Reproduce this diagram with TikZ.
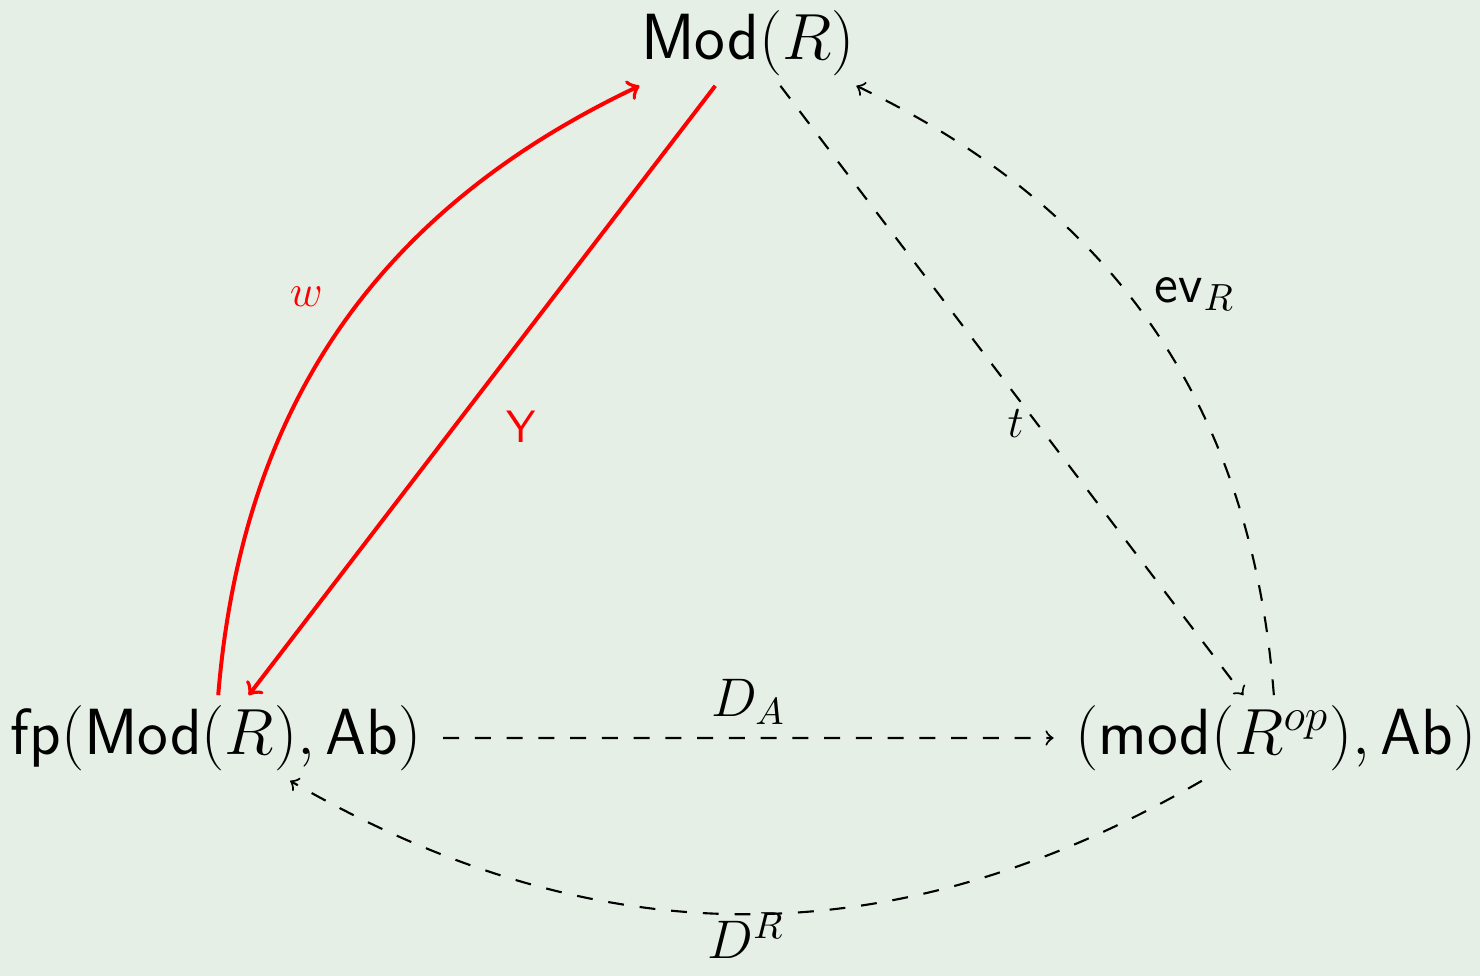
\documentclass[tikz,border=0pt]{standalone}
\definecolor{bgpale}{RGB}{230,239,230}

\begin{document}
\begin{tikzpicture}[scale=0.93,
  obj/.style={inner xsep=5.6pt, inner ysep=2.5pt, font=\LARGE},
  lbl/.style={font=\Large},
  redlbl/.style={font=\large},
  dasharr/.style={->, line width=0.56pt, dash pattern=on 4.2pt off 4.2pt},
  redarr/.style={->, red, line width=1.05pt}]
\useasboundingbox (0,0) rectangle (14.8,9.76);
\fill[bgpale] (0,0) rectangle (14.8,9.76);
\node[obj] (modR) at (7.48,9.33) {$\mathsf{Mod}(R)$};
\node[obj] (fpMod) at (2.16,2.38) {$\mathsf{fp}(\mathsf{Mod}(R),\mathsf{Ab})$};
\node[obj] (modRop) at (12.76,2.38) {$(\mathsf{mod}(R^{op}),\mathsf{Ab})$};
\draw[redarr] (fpMod) to[bend left=30] node[redlbl, pos=0.52, above left, xshift=-1mm, yshift=-0.4mm] {$w$} ([xshift=2mm]modR.south west);
\draw[redarr] (modR) -- node[redlbl, pos=0.56, right=0.35cm] {$\mathsf{Y}$} (fpMod);
\draw[dasharr] (modR) -- node[redlbl, pos=0.555, left] {$t$} (modRop);
\draw[dasharr] (modRop) to[bend right=30] node[lbl, above right, xshift=-1.2mm, yshift=0.5mm] {$\mathsf{ev}_R$} ([xshift=-2mm]modR.south east);
\draw[dasharr] (fpMod) -- node[lbl, above] {$D_A$} (modRop);
\draw[dasharr] (modRop) to[bend left=30] node[lbl, below, inner sep=1pt, yshift=0.6mm] {$D^R$} (fpMod);
\end{tikzpicture}
\end{document}
